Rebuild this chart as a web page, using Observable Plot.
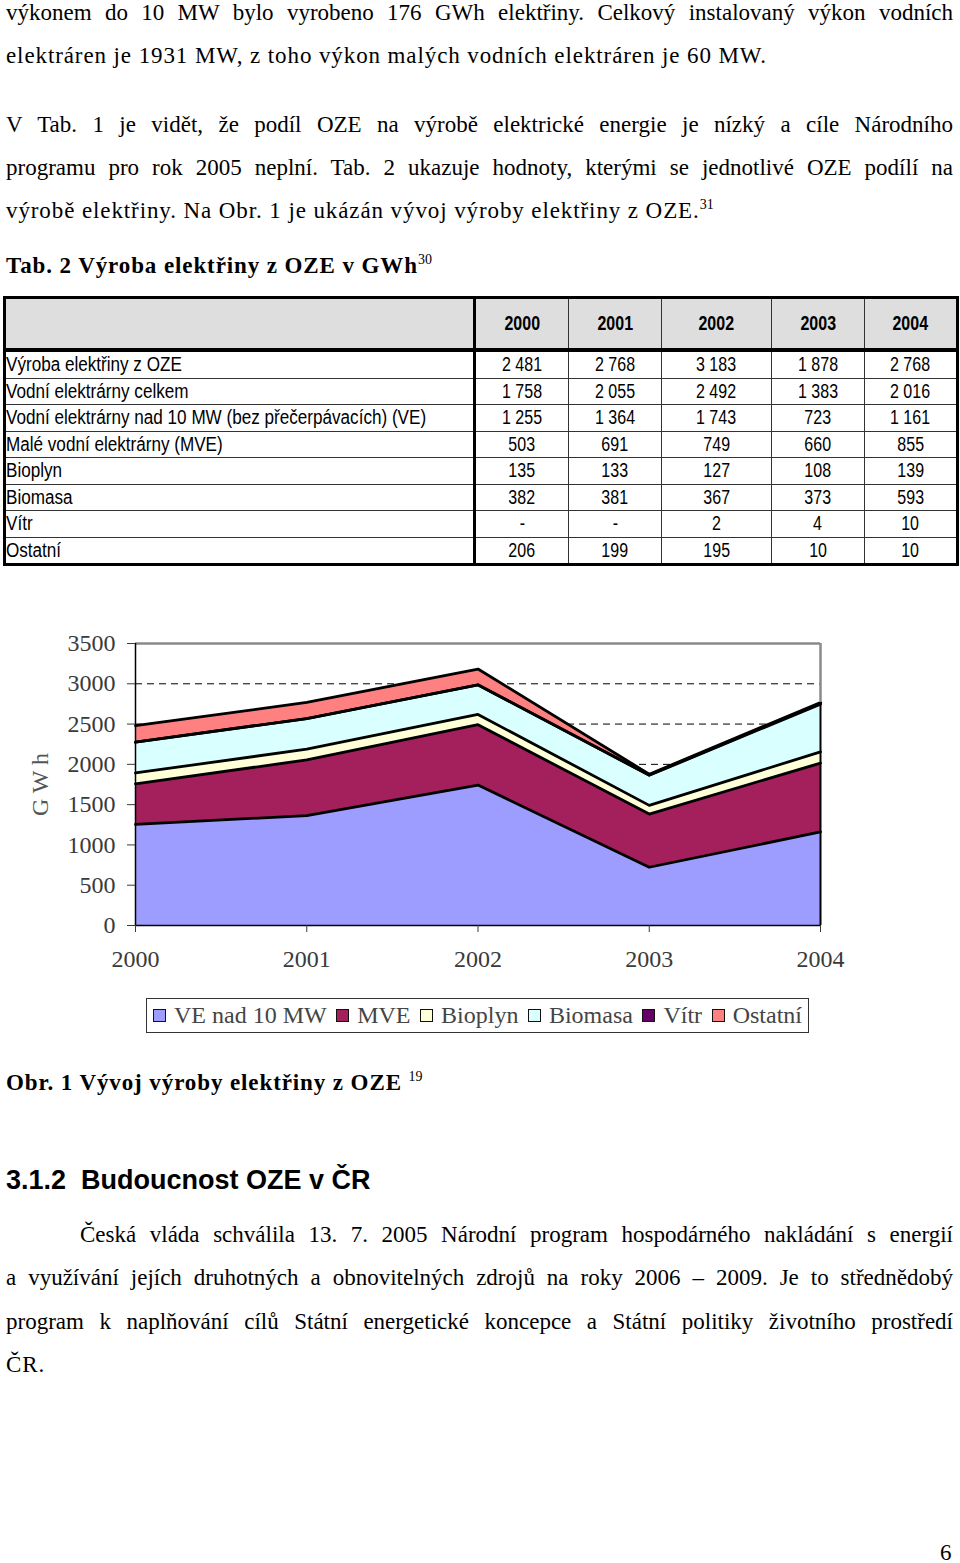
<!DOCTYPE html>
<html lang="cs">
<head>
<meta charset="utf-8">
<script src="https://cdn.jsdelivr.net/npm/d3@7"></script>
<script src="https://cdn.jsdelivr.net/npm/@observablehq/plot@0.6"></script>
<style>
  html, body { margin: 0; padding: 0; background: #fff; }
  body { width: 960px; height: 1563px; position: relative; overflow: hidden; color: #000; }
  .t { position: absolute; font-family: "Liberation Serif", "Times New Roman", serif; font-size: 23px; line-height: 30px; white-space: nowrap; letter-spacing: 0.9px; }
  .j { text-align: justify; text-align-last: justify; white-space: normal; letter-spacing: 0; }
  sup { font-size: 14px; vertical-align: 9px; line-height: 0; letter-spacing: 0; }
  #tbl { position: absolute; left: 3px; top: 296px; width: 953px; table-layout: fixed; border-collapse: collapse; font-family: "Liberation Sans", Arial, sans-serif; font-size: 20px; border: 3px solid #000; }
  #tbl td, #tbl th { border: 1.5px solid #333; padding: 0; height: 25.5px; line-height: 25px; overflow: visible; white-space: nowrap; }
  #tbl th { background: #dedede; height: 49px; font-weight: bold; border-bottom: 4px solid #000; text-align: center; }
  #tbl .lab { border-right: 3px solid #000; text-align: left; }
  #tbl td.num { text-align: center; }
  .sx { display: inline-block; transform: scaleX(0.8); }
  .lab .sx { transform: scaleX(0.855); transform-origin: left center; }
  .num .sx, th .sx { transform-origin: center center; }
  #chart { position: absolute; left: 0; top: 620px; }
  #legend { position: absolute; left: 146px; top: 998px; width: 649px; height: 33px; border: 1.5px solid #333; display: flex; align-items: center; justify-content: space-between; padding: 0 6px 0 6px; box-sizing: content-box; font-family: "Liberation Serif", "Times New Roman", serif; font-size: 24px; color: #444; }
  #legend .it { display: flex; align-items: center; }
  #legend .sw { width: 11px; height: 11px; border: 1.5px solid #111; margin-right: 8px; }
</style>
</head>
<body>
<div class="t j" style="left:6px; width:947px; top:-2px;">výkonem do 10 MW bylo vyrobeno 176 GWh elektřiny. Celkový instalovaný výkon vodních</div>
<div class="t" style="left:6px; top:41px;">elektráren je 1931 MW, z toho výkon malých vodních elektráren je 60 MW.</div>
<div class="t j" style="left:6px; width:947px; top:110px;">V Tab. 1 je vidět, že podíl OZE na výrobě elektrické energie je nízký a cíle Národního</div>
<div class="t j" style="left:6px; width:947px; top:153px;">programu pro rok 2005 neplní. Tab. 2 ukazuje hodnoty, kterými se jednotlivé OZE podílí na</div>
<div class="t" style="left:6px; top:196px;">výrobě elektřiny. Na Obr. 1 je ukázán vývoj výroby elektřiny z OZE.<sup>31</sup></div>
<div class="t" style="left:6px; top:251px; font-weight:bold;">Tab. 2 Výroba elektřiny z OZE v GWh<sup style="font-weight:normal">30</sup></div>

<table id="tbl"></table>

<div id="chart"></div>
<div id="legend"></div>

<div class="t" style="left:6px; top:1068px; font-weight:bold;">Obr. 1 Vývoj výroby elektřiny z OZE <sup style="font-weight:normal">19</sup></div>
<div class="t" style="left:6px; top:1163px; font-family:'Liberation Sans', Arial, sans-serif; font-weight:bold; font-size:27px; line-height:34px; letter-spacing:0;">3.1.2&nbsp; Budoucnost OZE v ČR</div>
<div class="t j" style="left:80px; width:873px; top:1220px;">Česká vláda schválila 13. 7. 2005 Národní program hospodárného nakládání s energií</div>
<div class="t j" style="left:6px; width:947px; top:1263px;">a využívání jejích druhotných a obnovitelných zdrojů na roky 2006 – 2009. Je to střednědobý</div>
<div class="t j" style="left:6px; width:947px; top:1307px;">program k naplňování cílů Státní energetické koncepce a Státní politiky životního prostředí</div>
<div class="t" style="left:6px; top:1350px;">ČR.</div>
<div class="t" style="left:940px; top:1538px;">6</div>

<script>
// ---- Data ----
const years = [2000, 2001, 2002, 2003, 2004];
const seriesNames = ["VE nad 10 MW", "MVE", "Bioplyn", "Biomasa", "Vítr", "Ostatní"];
const seriesColors = ["#9D9DFF", "#A3205C", "#FFFFD8", "#DAFFFF", "#660066", "#FF8080"];
const ve = [1255, 1364, 1743, 723, 1161];
const mve = [503, 691, 749, 660, 855];
const bioplyn = [135, 133, 127, 108, 139];
const biomasa = [382, 381, 367, 373, 593];
const vitr = [0, 0, 2, 4, 10];
const ostatni = [206, 199, 195, 10, 10];
const yTicks = [0, 500, 1000, 1500, 2000, 2500, 3000, 3500];

// Table rows
const rowLabels = ["Výroba elektřiny z OZE", "Vodní elektrárny celkem", "Vodní elektrárny nad 10 MW (bez přečerpávacích) (VE)", "Malé vodní elektrárny (MVE)", "Bioplyn", "Biomasa", "Vítr", "Ostatní"];
const rowTotal = ["2 481", "2 768", "3 183", "1 878", "2 768"];
const rowVodni = ["1 758", "2 055", "2 492", "1 383", "2 016"];
const rowVE = ["1 255", "1 364", "1 743", "723", "1 161"];
const rowMVE = ["503", "691", "749", "660", "855"];
const rowBioplyn = ["135", "133", "127", "108", "139"];
const rowBiomasa = ["382", "381", "367", "373", "593"];
const rowVitr = ["-", "-", "2", "4", "10"];
const rowOstatni = ["206", "199", "195", "10", "10"];

// ---- Table ----
const tableRows = [rowTotal, rowVodni, rowVE, rowMVE, rowBioplyn, rowBiomasa, rowVitr, rowOstatni];
const colWidths = [94, 93, 110, 93, 93];
const tbl = document.getElementById("tbl");
let html = "<colgroup><col style='width:470px'>" + colWidths.map(w => `<col style="width:${w}px">`).join("") + "</colgroup>";
html += "<tr><th class='lab'></th>" + years.map(y => `<th><span class="sx">${y}</span></th>`).join("") + "</tr>";
tableRows.forEach((r, i) => {
  html += `<tr><td class="lab"><span class="sx">${rowLabels[i]}</span></td>` + r.map(v => `<td class="num"><span class="sx">${v}</span></td>`).join("") + "</tr>";
});
tbl.innerHTML = html;

// ---- Chart ----
const seriesValues = [ve, mve, bioplyn, biomasa, vitr, ostatni];
const data = [];
seriesNames.forEach((s, si) => years.forEach((y, yi) => data.push({year: y, series: s, value: seriesValues[si][yi]})));
const lastIdx = years.length - 1;
const totalLast = d3.sum(seriesValues, v => v[lastIdx]);
const yMax = yTicks[yTicks.length - 1];

const chart = Plot.plot({
  width: 870, height: 360,
  marginLeft: 135, marginRight: 50, marginTop: 23, marginBottom: 55,
  style: {fontFamily: "'Liberation Serif', 'Times New Roman', serif", fontSize: "24px", background: "transparent", color: "#3a3a3a"},
  x: {domain: [years[0], years[lastIdx]]},
  y: {domain: [0, yMax]},
  color: {domain: seriesNames, range: seriesColors},
  marks: [
    Plot.ruleY(yTicks.filter(t => t > 0 && t < yMax), {stroke: "#000", strokeWidth: 1, strokeDasharray: "7,5"}),
    Plot.areaY(data, {x: "year", y: "value", z: "series", fill: "series", order: seriesNames}),
    Plot.lineY(data, Plot.stackY2({x: "year", y: "value", z: "series", order: seriesNames, stroke: "#000", strokeWidth: 2.8})),
    Plot.ruleY([yMax], {stroke: "#8a8a8a", strokeWidth: 2.5}),
    Plot.ruleX([years[lastIdx]], {y1: totalLast, y2: yMax, stroke: "#8a8a8a", strokeWidth: 2.5}),
    Plot.ruleX([years[lastIdx]], {y1: 0, y2: totalLast, stroke: "#000", strokeWidth: 2}),
    Plot.ruleX([years[0]], {stroke: "#000", strokeWidth: 1.5}),
    Plot.ruleY([0], {stroke: "#000", strokeWidth: 1.5}),
    Plot.axisY({ticks: yTicks, tickSize: 8, tickPadding: 12, tickFormat: d => String(d), label: null, fill: "#3a3a3a"}),
    Plot.text(["G W h"], {frameAnchor: "left", textAnchor: "middle", dx: -95, rotate: -90, fontSize: 24, fill: "#555"}),
    Plot.axisX({ticks: years, tickSize: 7, tickPadding: 17, tickFormat: d => String(d), label: null, fill: "#3a3a3a"})
  ]
});
document.getElementById("chart").appendChild(chart);

// ---- Legend ----
const legend = document.getElementById("legend");
seriesNames.forEach((s, i) => {
  const it = document.createElement("div");
  it.className = "it";
  it.innerHTML = `<span class="sw" style="background:${seriesColors[i]}"></span><span>${s}</span>`;
  legend.appendChild(it);
});
</script>
</body>
</html>
